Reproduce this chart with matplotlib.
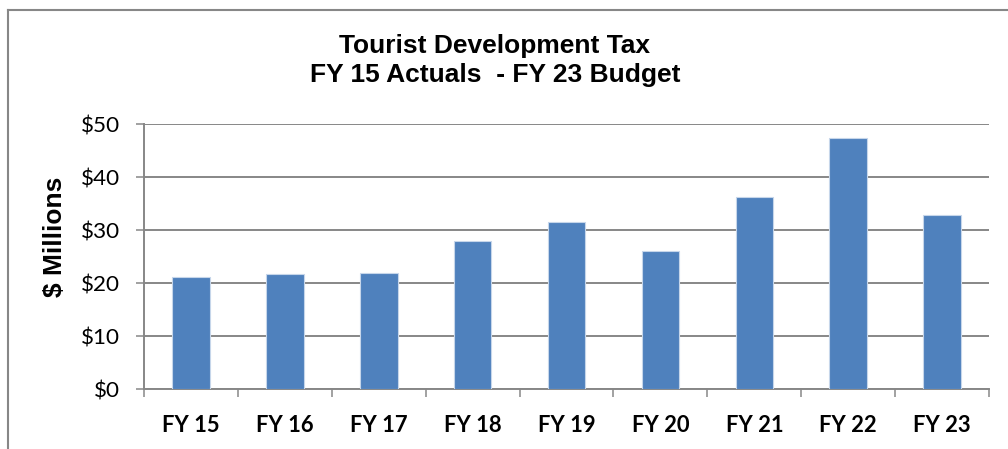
import numpy as np
import matplotlib.pyplot as plt
from matplotlib.lines import Line2D

# dane: wpływy z podatku turystycznego w mln $
lata = ["FY 15", "FY 16", "FY 17", "FY 18", "FY 19", "FY 20", "FY 21", "FY 22", "FY 23"]
wplywy = [21.2, 21.8, 22.0, 27.9, 31.6, 26.1, 36.2, 47.5, 32.8]
poziomy = [0, 10, 20, 30, 40, 50]
etykiety_y = ["$0", "$10", "$20", "$30", "$40", "$50"]

szary = "#878787"
niebieski = "#4F81BD"

fig = plt.figure(figsize=(10.08, 4.49), dpi=100)
ax = fig.add_axes([0.1429, 0.1336, 0.8383, 0.5896])

x = np.arange(len(lata))
ax.bar(x, wplywy, width=0.4, color=niebieski, edgecolor="#C6D6EA", linewidth=0.8, zorder=3)

ax.set_xlim(-0.5, len(lata) - 0.5)
ax.set_ylim(0, 50)
ax.set_yticks(poziomy)
ax.set_yticklabels(etykiety_y, fontfamily="Lato", fontsize=16.2)
ax.set_xticks(x)
ax.set_xticklabels(lata, fontfamily="Lato", fontsize=15.8, fontweight="bold")
ax.set_xticks(np.arange(-0.5, len(lata), 1), minor=True)
ax.tick_params(axis="x", which="major", length=0, pad=19)
ax.tick_params(axis="x", which="minor", length=5.5, width=1.1, color=szary)
ax.tick_params(axis="y", length=5.5, width=1.1, color=szary, pad=12)

ax.grid(axis="y", color=szary, linewidth=1.4, zorder=0)
for s in ["top", "right"]:
    ax.spines[s].set_visible(False)
for s in ["left", "bottom"]:
    ax.spines[s].set_color(szary)
    ax.spines[s].set_linewidth(1.4)

ax.set_ylabel("$ Millions", fontfamily="Liberation Sans", fontsize=19, fontweight="bold")
ax.yaxis.set_label_coords(-0.091, 0.574)

fig.text(0.491, 0.866, "Tourist Development Tax\nFY 15 Actuals  - FY 23 Budget",
         ha="center", va="center", fontfamily="Liberation Sans", fontsize=19,
         fontweight="bold", linespacing=1.28)

# ramka wykresu
fig.add_artist(Line2D([7.5 / 1008, 7.5 / 1008], [0, 1 - 9.7 / 449], color=szary, lw=1.5))
fig.add_artist(Line2D([7.5 / 1008, 1], [1 - 9.7 / 449, 1 - 9.7 / 449], color=szary, lw=1.5))

fig.savefig("out.png", dpi=100)
